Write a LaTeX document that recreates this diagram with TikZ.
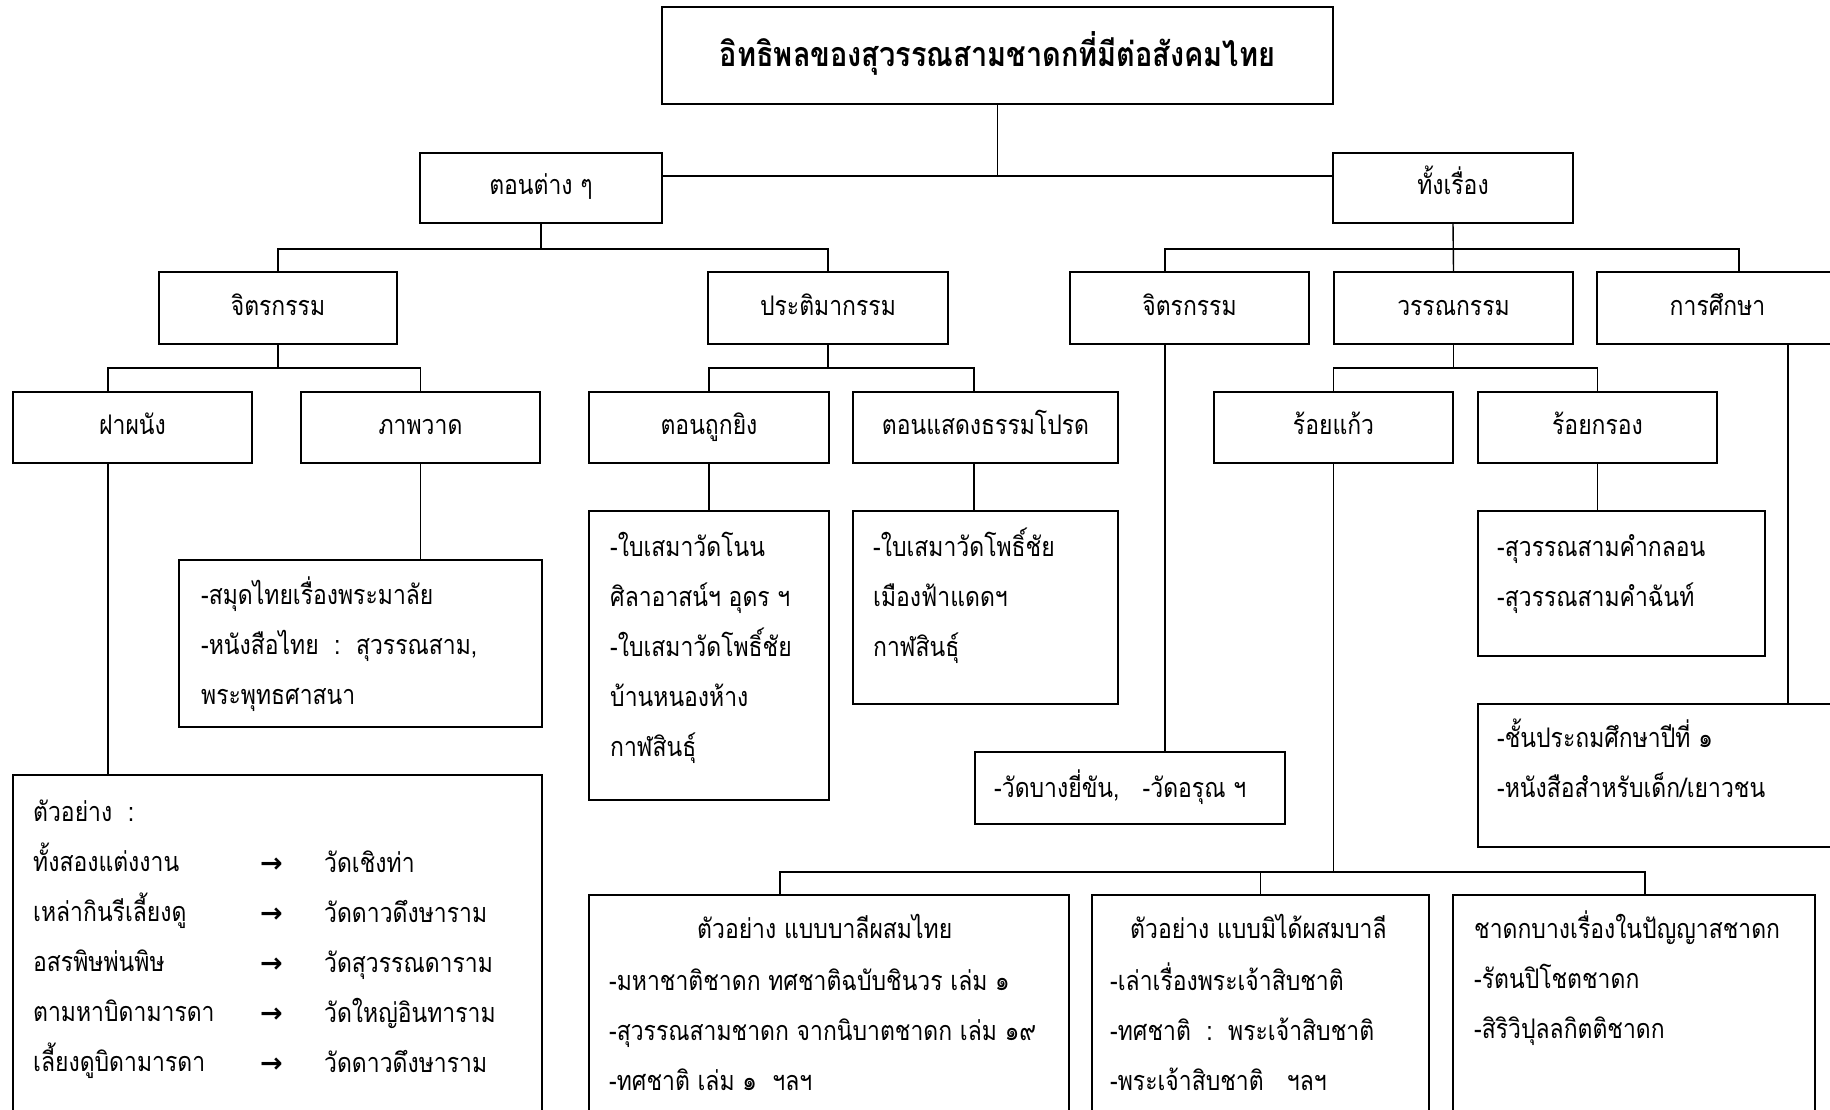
\documentclass[tikz,border=0pt]{standalone}
\usepackage{fontspec}
\usetikzlibrary{fit,calc}
\newfontfamily\thai[Script=Thai,FakeStretch=0.85]{Loma}
\newfontfamily\symf{DejaVu Sans}
\newcommand\bodyf{\thai\fontsize{27}{50}\selectfont}
\newcommand\titlef{\thai\bfseries\fontsize{34}{40}\selectfont}
\newcommand\arrf{\symf\bfseries\fontsize{27}{50}\selectfont}
\tikzset{
  bx/.style={draw, line width=1.7pt, inner sep=0pt, rectangle},
  lbl/.style={bx, font=\bodyf, text height=20pt, text depth=6pt},
  cn/.style={line width=1.4pt},
  tx/.style={anchor=base west, inner sep=0pt, align=left, font=\bodyf},
}
\begin{document}
\begin{tikzpicture}[x=1pt,y=-1pt]
\useasboundingbox (0,0) rectangle (1830,1110);
\clip (0,0) rectangle (1830,1110);
% label boxes
\node[bx, font=\titlef, text height=30pt, text depth=7pt, minimum width=671pt, minimum height=97pt] (title) at (997.5,55.5) {อิทธิพลของสุวรรณสามชาดกที่มีต่อสังคมไทย};
\node[lbl, minimum width=242pt, minimum height=70pt] (tonc) at (541,188) {ตอนต่าง ๆ};
\node[lbl, minimum width=240pt, minimum height=70pt] (thang) at (1453,188) {ทั้งเรื่อง};
\node[lbl, minimum width=238pt, minimum height=72pt] (jitL) at (278,308) {จิตรกรรม};
\node[lbl, minimum width=240pt, minimum height=72pt] (prati) at (828,308) {ประติมากรรม};
\node[lbl, minimum width=239pt, minimum height=72pt] (jitR) at (1189.5,308) {จิตรกรรม};
\node[lbl, minimum width=239pt, minimum height=72pt] (wan) at (1453.5,308) {วรรณกรรม};
\node[lbl, minimum width=241pt, minimum height=72pt] (suksa) at (1717.5,308) {การศึกษา};
\node[lbl, minimum width=239pt, minimum height=71pt] (fa) at (132.5,427.5) {ฝาผนัง};
\node[lbl, minimum width=239pt, minimum height=71pt] (phap) at (420.5,427.5) {ภาพวาด};
\node[lbl, minimum width=240pt, minimum height=71pt] (tuk) at (709,427.5) {ตอนถูกยิง};
\node[lbl, minimum width=265pt, minimum height=71pt] (sadaeng) at (985.5,427.5) {ตอนแสดงธรรมโปรด};
\node[lbl, minimum width=239pt, minimum height=71pt] (roikaew) at (1333.5,427.5) {ร้อยแก้ว};
\node[lbl, minimum width=239pt, minimum height=71pt] (roikrong) at (1597.5,427.5) {ร้อยกรอง};
% content boxes
\node[bx, fit={(179,560) (542,727)}] (sp) {};
\node[bx, fit={(13,775) (542,1140)}] (ex) {};
\node[bx, fit={(589,511) (829,800)}] (bs1) {};
\node[bx, fit={(853,511) (1118,704)}] (bs2) {};
\node[bx, fit={(975,752) (1285,824)}] (wat) {};
\node[bx, fit={(1478,511) (1765,656)}] (poem) {};
\node[bx, fit={(1478,704) (1860,847)}] (edu) {};
\node[bx, fit={(589,895) (1069,1140)}] (ba) {};
\node[bx, fit={(1092,895) (1429,1140)}] (bb) {};
\node[bx, fit={(1453,895) (1815,1140)}] (bc) {};
% connectors
\coordinate (j0) at ($(title.south)+(0,71)$);
\draw[cn] (title.south) -- (j0);
\draw[cn] (tonc.east |- j0) -- (thang.west |- j0);
\draw[cn] (tonc.south) -- ++(0,25) coordinate (b1);
\draw[cn] (jitL.north) |- (b1) -| (prati.north);
\draw[cn] (thang.south) -- (wan.north);
\coordinate (b2) at (thang.south |- b1);
\coordinate (jitRd) at ($(jitR.north west)+(96,0)$);
\coordinate (suksad) at ($(suksa.north west)+(143,0)$);
\draw[cn] (jitRd) |- (b2) -| (suksad);
\draw[cn] (jitL.south) -- ++(0,23) coordinate (b3);
\coordinate (fad) at ($(fa.north west)+(96,0)$);
\draw[cn] (fad) |- (b3) -| (phap.north);
\draw[cn] (prati.south) -- ++(0,23) coordinate (b4);
\coordinate (sdd) at ($(sadaeng.north west)+(122,0)$);
\draw[cn] (tuk.north) |- (b4) -| (sdd);
\draw[cn] (wan.south) -- ++(0,23) coordinate (b5);
\draw[cn] (roikaew.north) |- (b5) -| (roikrong.north);
\draw[cn] ($(fa.south west)+(96,0)$) -- (ex.north -| fad);
\draw[cn] (phap.south) -- (sp.north -| phap.south);
\draw[cn] (tuk.south) -- (bs1.north -| tuk.south);
\draw[cn] ($(sadaeng.south west)+(122,0)$) -- (bs2.north -| sdd);
\draw[cn] ($(jitR.south west)+(96,0)$) -- (wat.north -| jitRd);
\draw[cn] (roikrong.south) -- (poem.north -| roikrong.south);
\coordinate (sk2) at ($(suksa.south west)+(192,0)$);
\draw[cn] (sk2) -- (edu.north -| sk2);
\draw[cn] (roikaew.south) -- ++(0,408) coordinate (b6);
\coordinate (bad) at ($(ba.north west)+(192,0)$);
\coordinate (bcd) at ($(bc.north west)+(193,0)$);
\draw[cn] (bad) |- (b6) -| (bcd);
\draw[cn] (bb.north) -- (bb.north |- b6);
% texts (node base = baseline of last line)
\node[tx] (tsp) at (201,704) {-สมุดไทยเรื่องพระมาลัย\\-หนังสือไทย~~:~~สุวรรณสาม,\\พระพุทธศาสนา};
\node[tx] (texl) at (33,1071) {ตัวอย่าง~~:\\ทั้งสองแต่งงาน\\เหล่ากินรีเลี้ยงดู\\อสรพิษพ่นพิษ\\ตามหาบิดามารดา\\เลี้ยงดูบิดามารดา};
\node[tx, font=\arrf] (texa) at (260,1072) {→\\→\\→\\→\\→};
\node[tx] (texr) at (324,1072) {วัดเชิงท่า\\วัดดาวดึงษาราม\\วัดสุวรรณดาราม\\วัดใหญ่อินทาราม\\วัดดาวดึงษาราม};
\node[tx] (tbs1) at (610,756) {-ใบเสมาวัดโนน\\ศิลาอาสน์ฯ อุดร ฯ\\-ใบเสมาวัดโพธิ์ชัย\\บ้านหนองห้าง\\กาฬสินธุ์};
\node[tx] (tbs2) at (873,656) {-ใบเสมาวัดโพธิ์ชัย\\เมืองฟ้าแดดฯ\\กาฬสินธุ์};
\node[tx] (twat) at (994,797) {-วัดบางยี่ขัน,~~~-วัดอรุณ ฯ};
\node[tx] (tpoem) at (1497,606) {-สุวรรณสามคำกลอน\\-สุวรรณสามคำฉันท์};
\node[tx] (tedu) at (1497,797) {-ชั้นประถมศึกษาปีที่ ๑\\-หนังสือสำหรับเด็ก/เยาวชน};
\node[tx] (tbah) at (697,938) {ตัวอย่าง แบบบาลีผสมไทย};
\node[tx] (tba) at (609,1090) {-มหาชาติชาดก ทศชาติฉบับชินวร เล่ม ๑\\-สุวรรณสามชาดก จากนิบาตชาดก เล่ม ๑๙\\-ทศชาติ เล่ม ๑~~ฯลฯ};
\node[tx] (tbbh) at (1130,938) {ตัวอย่าง แบบมิได้ผสมบาลี};
\node[tx] (tbb) at (1110,1090) {-เล่าเรื่องพระเจ้าสิบชาติ\\-ทศชาติ~~:~~พระเจ้าสิบชาติ\\-พระเจ้าสิบชาติ~~~ฯลฯ};
\node[tx] (tbc) at (1474,1038) {ชาดกบางเรื่องในปัญญาสชาดก\\-รัตนปิโชตชาดก\\-สิริวิปุลลกิตติชาดก};
\end{tikzpicture}
\end{document}
